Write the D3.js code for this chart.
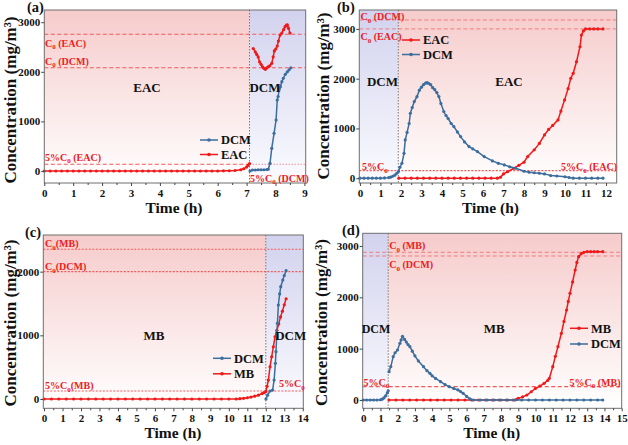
<!DOCTYPE html>
<html><head><meta charset="utf-8">
<script src="https://cdn.jsdelivr.net/npm/d3@7"></script>
<style>body{margin:0;background:#fff}svg{display:block}</style>
</head><body>
<svg id="chart" width="628" height="445"></svg>
<script>
// ---------- DATA ----------
// Panel (a): EAC then DCM
const aEAC = [[0,0],[0.2,0],[0.4,0],[0.6,0],[0.8,0],[1,0],[1.2,0],[1.4,0],[1.6,0],[1.8,0],[2,0],[2.2,0],[2.4,0],[2.6,0],[2.8,0],[3,0],[3.2,0],[3.4,0],[3.6,0],[3.8,0],[4,0],[4.2,0],[4.4,0],[4.6,0],[4.8,0],[5,0],[5.2,0],[5.4,0],[5.6,0],[5.8,0],[6,0],[6.2,3],[6.4,5],[6.6,10],[6.8,25],[6.9,45],[7,80],[7.05,115],[7.1,150],[7.15,null],
  [7.23,2470],[7.3,2400],[7.35,2350],[7.4,2300],[7.45,2200],[7.5,2150],[7.55,2100],[7.6,2070],[7.65,2050],[7.7,2080],[7.75,2100],[7.8,2120],[7.87,2170],[7.92,2300],[7.96,2420],[8.01,2460],[8.06,2520],[8.1,2620],[8.16,2740],[8.22,2780],[8.28,2850],[8.33,2910],[8.38,2940],[8.41,2945],[8.45,2880],[8.5,2780]];
const aDCM = [[7.12,0],[7.2,20],[7.3,20],[7.4,25],[7.5,25],[7.6,25],[7.7,30],[7.75,35],[7.81,155],[7.87,458],[7.95,760],[8.02,1028],[8.06,1430],[8.09,1500],[8.13,1650],[8.17,1700],[8.22,1800],[8.27,1870],[8.34,1950],[8.41,2000],[8.47,2040],[8.53,2080]];
const aXTicks = [0,1,2,3,4,5,6,7,8,9];
const aYTicks = [0,1000,2000,3000];
const aSwitch = 7.1;
const aRefValues = [2756, 2083, 135];

// Panel (b): DCM then EAC
const bDCM = [[0,0],[0.2,0],[0.4,0],[0.6,0],[0.8,0],[1,0],[1.2,5],[1.4,12],[1.5,22],[1.6,40],[1.7,62],[1.8,100],[1.88,133],[1.95,220],[2.05,301],[2.15,500],[2.21,769],[2.3,920],[2.4,1100],[2.46,1305],[2.55,1420],[2.65,1540],[2.78,1639],[2.9,1770],[3,1830],[3.1,1880],[3.2,1910],[3.27,1920],[3.35,1905],[3.45,1880],[3.55,1820],[3.65,1780],[3.75,1720],[3.85,1640],[3.95,1500],[4.09,1340],[4.2,1260],[4.3,1200],[4.45,1100],[4.58,1038],[4.75,930],[4.91,837],[5.1,730],[5.32,636],[5.5,590],[5.73,536],[6.06,435],[6.46,348],[6.75,300],[7.04,268],[7.3,230],[7.6,200],[8,140],[8.25,120],[8.5,110],[8.75,100],[9,87],[9.3,54],[9.6,45],[10,30],[10.2,15],[10.4,0],[10.7,0],[11,0],[11.3,0],[11.6,0],[11.85,0]];
const bEAC = [[1.9,0],[2.2,0],[2.5,0],[2.8,0],[3.1,0],[3.4,0],[3.7,0],[4,0],[4.3,0],[4.6,0],[4.9,0],[5.2,0],[5.5,0],[5.8,0],[6.1,0],[6.4,0],[6.7,0],[6.85,20],[7,87],[7.2,130],[7.5,200],[7.75,260],[8,321],[8.18,435],[8.5,570],[8.75,700],[9,870],[9.2,980],[9.4,1060],[9.66,1172],[9.8,1350],[9.98,1574],[10.15,1800],[10.28,2008],[10.4,2108],[10.56,2341],[10.73,2642],[10.8,2877],[10.9,2960],[11,3000],[11.2,3000],[11.4,3000],[11.6,3000],[11.85,3000]];
const bXTicks = [0,1,2,3,4,5,6,7,8,9,10,11,12];
const bYTicks = [0,1000,2000,3000];
const bSwitch = 1.87;
const bRefValues = [3180, 3000, 153];

// Panel (c): MB then DCM
const cMB = [[0,0],[0.4,0],[0.8,0],[1.2,0],[1.6,0],[2,0],[2.4,0],[2.8,0],[3.2,0],[3.6,0],[4,0],[4.4,0],[4.8,0],[5.2,0],[5.6,0],[6,0],[6.4,0],[6.8,0],[7.2,0],[7.6,0],[8,0],[8.4,0],[8.8,0],[9.2,0],[9.6,0],[10,0],[10.4,0],[10.6,5],[10.8,10],[11,20],[11.2,30],[11.4,45],[11.6,60],[11.8,85],[11.9,100],[12,115],[12.07,200],[12.14,298],[12.23,507],[12.32,664],[12.41,821],[12.5,978],[12.6,1080],[12.7,1180],[12.8,1290],[12.9,1380],[13,1480],[13.1,1575]];
const cDCM = [[12.01,0],[12.1,60],[12.23,126],[12.37,141],[12.45,298],[12.52,561],[12.55,743],[12.59,978],[12.63,1188],[12.68,1476],[12.75,1650],[12.81,1764],[12.92,1869],[13,1940],[13.1,2016]];
const cXTicks = [0,1,2,3,4,5,6,7,8,9,10,11,12,13,14];
const cYTicks = [0,1000,2000];
const cSwitch = 12;
const cRefValues = [2351, 2000, 126];

// Panel (d): DCM then MB
const dDCM = [[0,0],[0.2,0],[0.4,0],[0.6,0],[0.8,0],[1,5],[1.1,15],[1.2,40],[1.3,80],[1.4,140],[1.45,180],[1.47,null],[1.5,552],[1.6,650],[1.74,844],[1.85,920],[1.99,974],[2.13,1104],[2.2,1170],[2.28,1240],[2.4,1180],[2.5,1130],[2.6,1080],[2.71,1039],[2.85,950],[3,860],[3.2,760],[3.5,649],[3.7,570],[3.87,519],[4,470],[4.2,420],[4.49,357],[4.75,300],[4.99,260],[5.25,225],[5.5,195],[5.65,165],[5.8,130],[6,70],[6.19,20],[6.4,0],[6.8,0],[7.2,0],[7.6,0],[8,0],[8.4,0],[8.8,0],[9.2,0],[9.6,0],[10,0],[10.4,0],[10.8,0],[11.2,0],[11.6,0],[12,0],[12.4,0],[12.8,0],[13.2,0],[13.6,0],[13.9,0]];
const dMB = [[1.5,0],[1.9,0],[2.3,0],[2.7,0],[3.1,0],[3.5,0],[3.9,0],[4.3,0],[4.7,0],[5.1,0],[5.5,0],[5.9,0],[6.3,0],[6.7,0],[7.1,0],[7.5,0],[7.9,0],[8.3,0],[8.7,0],[8.9,10],[9,32],[9.25,60],[9.5,97],[9.75,160],[10,227],[10.25,270],[10.5,325],[10.7,380],[10.8,422],[11,649],[11.15,850],[11.3,1039],[11.5,1299],[11.65,1530],[11.8,1753],[11.9,1920],[12,2078],[12.15,2300],[12.3,2532],[12.4,2680],[12.5,2792],[12.65,2850],[12.8,2877],[13,2890],[13.2,2890],[13.4,2890],[13.6,2890],[13.9,2890]];
const dXTicks = [0,1,2,3,4,5,6,7,8,9,10,11,12,13,14,15];
const dYTicks = [0,1000,2000,3000];
const dSwitch = 1.45;
const dRefValues = [2877, 2805, 260];

// ---------- STYLE ----------
const RED = "#f01818", BLUE = "#3b6d9d";
const FONT = "'Liberation Serif','Times New Roman',serif";
const svg = d3.select("#chart");
const defs = svg.append("defs");
function grad(id, top, bottom){
  const g = defs.append("linearGradient").attr("id", id).attr("x1",0).attr("y1",0).attr("x2",0).attr("y2",1);
  g.append("stop").attr("offset","0%").attr("stop-color", top);
  g.append("stop").attr("offset","100%").attr("stop-color", bottom);
}
grad("gPink", "#f6cbcb", "#ffffff");
grad("gBlue", "#d2d2ee", "#fbfbff");

function c0Text(g, x, y, pre, post, anchor){
  const t = g.append("text").attr("x", x).attr("y", y).attr("fill", "#ee2020")
    .attr("font-family", FONT).attr("font-weight", "bold").attr("font-size", 10)
    .attr("text-anchor", anchor || "start");
  t.append("tspan").text(pre);
  t.append("tspan").attr("font-size", 7).attr("dy", 2.5).text("0");
  t.append("tspan").attr("dy", -2.5).text(post);
}

function drawPanel(p){
  const g = svg.append("g");
  const x = d3.scaleLinear().domain(p.xDomain).range([p.left, p.right]);
  const y = d3.scaleLinear().domain(p.yDomain).range([p.bottom, p.top]);
  const x0 = p.xDomain[0], x1 = p.xDomain[1];
  // regions
  p.regions.forEach(r => {
    const a = r[0] === null ? x0 : r[0], b = r[1] === null ? x1 : r[1];
    g.append("rect").attr("x", x(a)).attr("y", p.top).attr("width", x(b) - x(a))
      .attr("height", p.bottom - p.top).attr("fill", `url(#${r[2]})`);
  });
  // reference lines
  p.refs.forEach(r => {
    const a = r.from === undefined ? x0 : r.from, b = r.to === undefined ? x1 : r.to;
    g.append("line").attr("x1", x(a)).attr("x2", x(b)).attr("y1", y(r.v)).attr("y2", y(r.v))
      .attr("stroke", r.color || "#f25a5a").attr("stroke-width", r.w || 1.1)
      .attr("stroke-dasharray", r.dash || "4,2.5");
  });
  // divider
  g.append("line").attr("x1", x(p.sw)).attr("x2", x(p.sw)).attr("y1", p.top).attr("y2", p.bottom)
    .attr("stroke", "#777").attr("stroke-width", 1).attr("stroke-dasharray", "1.5,1.5");
  // series
  p.series.forEach(s => {
    const line = d3.line().defined(d => d[1] !== null).x(d => x(d[0])).y(d => y(d[1]));
    g.append("path").datum(s.data).attr("d", line).attr("fill", "none")
      .attr("stroke", s.color).attr("stroke-width", 1.5);
    g.append("g").selectAll("circle").data(s.data.filter(d => d[1] !== null)).join("circle")
      .attr("cx", d => x(d[0])).attr("cy", d => y(d[1])).attr("r", 1.6).attr("fill", s.color);
  });
  // frame
  g.append("rect").attr("x", p.left).attr("y", p.top).attr("width", p.right - p.left)
    .attr("height", p.bottom - p.top).attr("fill", "none").attr("stroke", "#6f6f6f").attr("stroke-width", 1);
  // axes
  const xa = g.append("g").attr("transform", `translate(0,${p.bottom})`)
    .call(d3.axisBottom(x).tickValues(p.xTicks).tickSize(3).tickPadding(3).tickFormat(d3.format("d")));
  const minor = p.xTicks.slice(0, -1).map(t => t + 0.5).filter(t => t < x1);
  const xm = g.append("g").attr("transform", `translate(0,${p.bottom})`)
    .call(d3.axisBottom(x).tickValues(minor).tickSize(2).tickFormat(""));
  const ya = g.append("g").attr("transform", `translate(${p.left},0)`)
    .call(d3.axisLeft(y).tickValues(p.yTicks).tickSize(3).tickPadding(1).tickFormat(d3.format("d")));
  [xa, xm, ya].forEach(a => {
    a.select(".domain").remove();
    a.selectAll("line").attr("stroke", "#444");
    a.selectAll("text").attr("font-family", FONT).attr("font-weight", "bold").attr("font-size", 11).attr("fill", "#111");
  });
  // axis titles
  g.append("text").attr("x", p.xTitle[0]).attr("y", p.xTitle[1]).attr("text-anchor", "middle")
    .attr("font-family", FONT).attr("font-weight", "bold").attr("font-size", 15.5).attr("fill", "#111").text("Time (h)");
  g.append("text").attr("transform", `translate(${p.yTitle[0]},${p.yTitle[1]}) rotate(-90)`)
    .attr("text-anchor", "middle").attr("dominant-baseline", "central")
    .attr("font-family", FONT).attr("font-weight", "bold").attr("font-size", 17).attr("fill", "#111")
    .text("Concentration (mg/m³)");
  // panel letter
  g.append("text").attr("x", p.letter[0]).attr("y", p.letter[1]).attr("font-family", FONT)
    .attr("font-weight", "bold").attr("font-size", 14.5).attr("fill", "#111").text(p.letter[2]);
  // region names
  p.names.forEach(n => g.append("text").attr("x", n[1]).attr("y", n[2]).attr("text-anchor", "middle")
    .attr("font-family", FONT).attr("font-weight", "bold").attr("font-size", n[3] || 13).attr("fill", "#111").text(n[0]));
  // reference labels
  p.labels.forEach(l => c0Text(g, l[0], l[1], l[2], l[3], l[4]));
  // legend
  p.legend.forEach((L, i) => {
    const ly = p.legendPos[1] + i * p.legendPos[3];
    const lx = p.legendPos[0];
    g.append("line").attr("x1", lx).attr("x2", lx + 18).attr("y1", ly).attr("y2", ly)
      .attr("stroke", L[1]).attr("stroke-width", 1.5);
    g.append("circle").attr("cx", lx + 9).attr("cy", ly).attr("r", 1.8).attr("fill", L[1]);
    g.append("text").attr("x", lx + p.legendPos[2]).attr("y", ly + 4.3).attr("font-family", FONT)
      .attr("font-weight", "bold").attr("font-size", 12.5).attr("fill", "#111").text(L[0]);
  });
}

const EMPTY = null;
drawPanel({
  left: 44.3, right: 305.7, top: 10, bottom: 183,
  xDomain: [0, 9.045], yDomain: [-242, 3246],
  xTicks: aXTicks, yTicks: aYTicks, sw: aSwitch,
  regions: [[EMPTY, aSwitch, "gPink"], [aSwitch, EMPTY, "gBlue"]],
  refs: [{v: aRefValues[0]}, {v: aRefValues[1]}, {v: aRefValues[2], to: aSwitch},
         {v: aRefValues[2], from: aSwitch, dash: "1.5,1.5", color: "#f59090", w: 1}],
  series: [{data: aEAC, color: RED}, {data: aDCM, color: BLUE}],
  xTitle: [174, 213], yTitle: [10, 100], letter: [27, 12, "(a)"],
  names: [["EAC", 147, 92], ["DCM", 265, 92]],
  labels: [[45, 46.5, "C", " (EAC)"], [45, 64.5, "C", " (DCM)"], [45, 160.5, "5%C", " (EAC)"], [250, 181.5, "5%C", " (DCM)"]],
  legend: [["DCM", BLUE], ["EAC", RED]], legendPos: [200, 140, 21, 14.5]
});
drawPanel({
  left: 359.3, right: 616.7, top: 10, bottom: 183,
  xDomain: [-0.03, 12.52], yDomain: [-96, 3380],
  xTicks: bXTicks, yTicks: bYTicks, sw: bSwitch,
  regions: [[EMPTY, bSwitch, "gBlue"], [bSwitch, EMPTY, "gPink"]],
  refs: [{v: bRefValues[0], w: 0.9, color: "#f27070"}, {v: bRefValues[1], w: 0.9, color: "#f27070"},
         {v: bRefValues[2], dash: "2,1.5"}],
  series: [{data: bEAC, color: RED}, {data: bDCM, color: BLUE}],
  xTitle: [490.5, 213], yTitle: [323, 96], letter: [337, 12, "(b)"],
  names: [["DCM", 382.5, 86], ["EAC", 509, 86]],
  labels: [[360.5, 20, "C", " (DCM)"], [360.5, 40, "C", " (EAC)"], [362, 170, "5%C", ""], [617, 170, "5%C", " (EAC)", "end"]],
  legend: [["EAC", RED], ["DCM", BLUE]], legendPos: [402, 40, 21, 14.5]
});
drawPanel({
  left: 43.3, right: 303.3, top: 235, bottom: 408.3,
  xDomain: [-0.04, 14.03], yDomain: [-146, 2576],
  xTicks: cXTicks, yTicks: cYTicks, sw: cSwitch,
  regions: [[EMPTY, cSwitch, "gPink"], [cSwitch, EMPTY, "gBlue"]],
  refs: [{v: cRefValues[0], dash: "2,1.5"}, {v: cRefValues[1], dash: "2,1.5"}, {v: cRefValues[2], dash: "2,1.5"}],
  series: [{data: cMB, color: RED}, {data: cDCM, color: BLUE}],
  xTitle: [173, 438], yTitle: [10, 323], letter: [25, 236.5, "(c)"],
  names: [["MB", 154, 340], ["DCM", 290.7, 340]],
  labels: [[45, 247, "C", "(MB)"], [45, 270, "C", "(DCM)"], [45, 389, "5%C", "(MB)"], [279, 387, "5%C", ""]],
  legend: [["DCM", BLUE], ["MB", RED]], legendPos: [213, 358.3, 21, 15.5]
});
drawPanel({
  left: 362.7, right: 621.7, top: 233.3, bottom: 408.3,
  xDomain: [-0.03, 15.0], yDomain: [-162, 3247],
  xTicks: dXTicks, yTicks: dYTicks, sw: dSwitch,
  regions: [[EMPTY, dSwitch, "gBlue"], [dSwitch, EMPTY, "gPink"]],
  refs: [{v: dRefValues[0], w: 0.9, color: "#f27070"}, {v: dRefValues[1], w: 0.9, color: "#f27070"}, {v: dRefValues[2]}],
  series: [{data: dMB, color: RED}, {data: dDCM, color: BLUE}],
  xTitle: [491.7, 438], yTitle: [321.7, 322.5], letter: [342, 234.5, "(d)"],
  names: [["DCM", 376, 332.5, 12], ["MB", 494.3, 332.5]],
  labels: [[389.3, 249, "C", " (MB)"], [389.3, 268, "C", " (DCM)"], [363.5, 385.5, "5%C", ""], [620.5, 385.5, "5%C", " (MB)", "end"]],
  legend: [["MB", RED], ["DCM", BLUE]], legendPos: [570, 328.3, 21, 15.7]
});
</script></body></html>
